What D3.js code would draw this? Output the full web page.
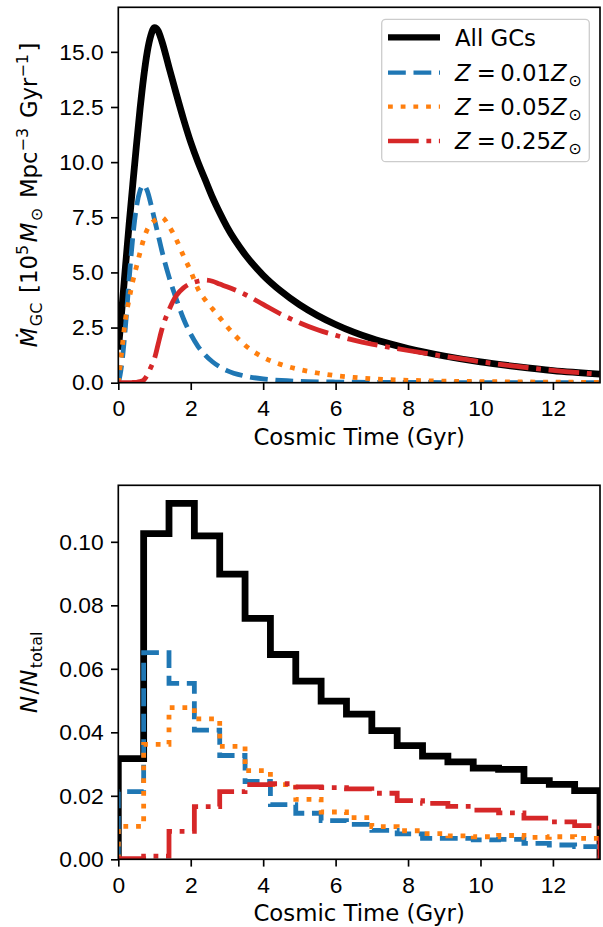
<!DOCTYPE html>
<html lang="en">
<head>
<meta charset="UTF-8">
<title>GC formation history</title>
<script src="https://d3js.org/d3.v7.min.js"></script>
<style>
    body { margin: 0; background: white; }
    #canvas { display: block; font-family: 'DejaVu Sans', sans-serif; }
    #canvas text { white-space: pre; fill: black; }
    .tick text { font-size: 22.8px; }
    .tick line { stroke: black; stroke-width: 1.66px; }
</style>
</head>
<body>
<svg id="canvas" width="603" height="927"></svg>
<script>
// ---- top panel: formation rate, 10^5 Msun / Mpc^3 / Gyr ----
let tGrid = [0, 0.05, 0.1, 0.2, 0.3, 0.4, 0.5, 0.6, 0.7, 0.8, 0.9, 1.0, 1.1, 1.2, 1.4, 1.6, 1.8, 2.0,
             2.2, 2.4, 2.6, 2.8, 3.0, 3.5, 4.0, 4.5, 5.0, 5.5, 6.0, 6.5, 7.0, 7.5, 8.0, 9.0, 10.0, 11.0, 12.0, 13.3];
let rateAll = [1.5, 2.4, 3.35, 5.3, 7.2, 9.0, 10.75, 12.4, 13.85, 15.0, 15.75, 16.1, 15.95, 15.5, 14.3, 13.1, 11.95, 10.9,
               10.0, 9.2, 8.4, 7.7, 7.06, 5.81, 4.87, 4.14, 3.54, 3.05, 2.64, 2.29, 2.0, 1.76, 1.55, 1.21, 0.94, 0.73, 0.55, 0.39];
let rateZ001 = [0, 0.35, 0.9, 2.6, 4.7, 6.6, 7.95, 8.7, 8.95, 8.7, 8.1, 7.4, 6.7, 6.0, 4.8, 3.8, 2.9, 2.2,
                1.65, 1.25, 0.95, 0.72, 0.55, 0.3, 0.17, 0.1, 0.06, 0.04, 0.03, 0.02, 0.015, 0.012, 0.01, 0.007, 0.005, 0.004, 0.003, 0.002];
let rateZ005 = [0, 0.75, 1.5, 2.9, 3.8, 4.6, 5.25, 5.9, 6.5, 6.95, 7.2, 7.35, 7.45, 7.5, 7.1, 6.5, 5.75, 5.05,
                4.25, 3.75, 3.35, 2.95, 2.55, 1.7, 1.15, 0.82, 0.6, 0.44, 0.32, 0.24, 0.18, 0.14, 0.11, 0.07, 0.05, 0.035, 0.025, 0.015];
let rateZ025 = [0, 0, 0, 0, 0, 0.01, 0.02, 0.05, 0.12, 0.35, 0.7, 1.1, 1.75, 2.4, 3.3, 3.95, 4.3, 4.5,
                4.6, 4.65, 4.6, 4.47, 4.35, 4.0, 3.55, 3.1, 2.72, 2.4, 2.15, 1.93, 1.75, 1.6, 1.46, 1.2, 0.95, 0.74, 0.56, 0.38];

// ---- bottom panel: normalised histogram of formation times ----
let binEdges = [0, 0.7, 1.4, 2.1, 2.8, 3.5, 4.2, 4.9, 5.6, 6.3, 7.0, 7.7, 8.4, 9.1, 9.8, 10.5, 11.2, 11.9, 12.6, 13.3];
let fracAll  = [0.0317, 0.1026, 0.1121, 0.1019, 0.0898, 0.0759, 0.0645, 0.0561, 0.0498, 0.0457,
                0.0405, 0.0358, 0.0325, 0.0307, 0.0287, 0.0283, 0.0248, 0.0236, 0.0216];
let fracZ001 = [0.0213, 0.0651, 0.0554, 0.0407, 0.0327, 0.0245, 0.0172, 0.0145, 0.0122, 0.011,
                0.0091, 0.008, 0.0066, 0.0066, 0.0061, 0.0063, 0.005, 0.0045, 0.004];
let fracZ005 = [0.0104, 0.0362, 0.0478, 0.0442, 0.0356, 0.0279, 0.0235, 0.0189, 0.0149, 0.0131,
                0.0103, 0.009, 0.0081, 0.0074, 0.0071, 0.0075, 0.0069, 0.0071, 0.0066];
let fracZ025 = [0.0002, 0.001, 0.0088, 0.0166, 0.0213, 0.0235, 0.0238, 0.0228, 0.0226, 0.0222,
                0.0208, 0.0185, 0.0176, 0.0167, 0.0155, 0.0146, 0.013, 0.0118, 0.0106];

let seriesLabels = ['All GCs', '0.01', '0.05', '0.25'];
let xTicks = [0, 2, 4, 6, 8, 10, 12];
let rateTicks = [0, 2.5, 5, 7.5, 10, 12.5, 15];
let fracTicks = [0, 0.02, 0.04, 0.06, 0.08, 0.10];

// line styles, same order as the series
let styles = [
    {color: '#000000', width: 6.8, dash: null},
    {color: '#1f77b4', width: 4.8, dash: '17.8,7.7'},
    {color: '#ff7f0e', width: 4.8, dash: '4.8,7.9'},
    {color: '#d62728', width: 4.8, dash: '30.7,7.7,4.8,7.7'}
];

let fontPx = 22.8;
let svg = d3.select('#canvas');
let left = 118.3, right = 600;
let topPanel = {top: 7.3, bottom: 382.7};
let botPanel = {top: 485.3, bottom: 859.3};

let x = d3.scaleLinear().domain([0, 13.3]).range([left, right]);
let yRate = d3.scaleLinear().domain([0, 17.02]).range([topPanel.bottom, topPanel.top]);
let yFrac = d3.scaleLinear().domain([0, 0.1178]).range([botPanel.bottom, botPanel.top]);

// write matplotlib-like mathtext with tspans
// (a little extra room after italics and scripts, as mathtext does)
function mathText(sel, parts, size){
    let shift = 0, gap = 0;
    parts.forEach(function(p){
        let target = 0, fs = size;
        if(p.s == 'sub'){ target = size * 0.22; fs = size * 0.7; }
        if(p.s == 'sup'){ target = -size * 0.4; fs = size * 0.7; }
        sel.append('tspan')
            .attr('dx', gap)
            .attr('dy', target - shift)
            .style('font-size', fs + 'px')
            .style('font-style', p.i ? 'italic' : 'normal')
            .text(p.t);
        shift = target;
        gap = p.s ? 2.5 : (p.i ? 1.5 : 0);
    });
}

function drawPanel(panel, yScale, yTicks, yFmt, id){
    svg.append('clipPath').attr('id', id)
        .append('rect')
        .attr('x', left).attr('y', panel.top)
        .attr('width', right - left).attr('height', panel.bottom - panel.top);

    svg.append('g')
        .attr('transform', 'translate(0,' + panel.bottom + ')')
        .call(d3.axisBottom(x).tickValues(xTicks).tickSize(7.3).tickPadding(10).tickFormat(d3.format('d')))
        .call(function(g){ g.select('.domain').remove(); });

    svg.append('g')
        .attr('transform', 'translate(' + left + ',0)')
        .call(d3.axisLeft(yScale).tickValues(yTicks).tickSize(7.3).tickPadding(7.3).tickFormat(yFmt))
        .call(function(g){ g.select('.domain').remove(); });

    svg.selectAll('.tick text').attr('font-family', null).attr('font-size', null);

    svg.append('text')
        .attr('x', (left + right) / 2)
        .attr('y', panel.bottom + 62)
        .attr('text-anchor', 'middle')
        .style('font-size', fontPx + 'px')
        .text('Cosmic Time (Gyr)');
}

drawPanel(topPanel, yRate, rateTicks, d3.format('.1f'), 'clipTop');
drawPanel(botPanel, yFrac, fracTicks, d3.format('.2f'), 'clipBot');

// top curves
let rateSeries = [rateAll, rateZ001, rateZ005, rateZ025];
let rateLine = d3.line()
    .x(function(d, i){ return x(tGrid[i]); })
    .y(function(d){ return yRate(d); })
    .curve(d3.curveMonotoneX);

let topLines = svg.append('g').attr('clip-path', 'url(#clipTop)');
rateSeries.forEach(function(vals, k){
    topLines.append('path')
        .attr('d', rateLine(vals))
        .attr('fill', 'none')
        .attr('stroke', styles[k].color)
        .attr('stroke-width', styles[k].width)
        .attr('stroke-dasharray', styles[k].dash)
        .attr('stroke-linejoin', 'round');
});

// bottom step histograms
let fracSeries = [fracAll, fracZ001, fracZ005, fracZ025];
function stepPoints(vals){
    let pts = [[binEdges[0], 0]];
    vals.forEach(function(v, i){
        pts.push([binEdges[i], v]);
        pts.push([binEdges[i + 1], v]);
    });
    pts.push([binEdges[binEdges.length - 1], 0]);
    return pts;
}
let stepLine = d3.line()
    .x(function(d){ return x(d[0]); })
    .y(function(d){ return yFrac(d[1]); });

let botLines = svg.append('g').attr('clip-path', 'url(#clipBot)');
fracSeries.forEach(function(vals, k){
    botLines.append('path')
        .attr('d', stepLine(stepPoints(vals)))
        .attr('fill', 'none')
        .attr('stroke', styles[k].color)
        .attr('stroke-width', styles[k].width)
        .attr('stroke-dasharray', styles[k].dash)
        .attr('stroke-linejoin', 'miter');
});

// axes frames on top
[topPanel, botPanel].forEach(function(p){
    svg.append('rect')
        .attr('x', left).attr('y', p.top)
        .attr('width', right - left).attr('height', p.bottom - p.top)
        .attr('fill', 'none')
        .attr('stroke', 'black')
        .attr('stroke-width', 1.66);
});

// legend
let legend = svg.append('g');
legend.append('rect')
    .attr('x', 381.7).attr('y', 19.3)
    .attr('width', 207.6).attr('height', 142.4)
    .attr('rx', 4)
    .attr('fill', 'white').attr('fill-opacity', 0.8)
    .attr('stroke', '#cccccc').attr('stroke-width', 1.3);

let rowY = [37.3, 72.7, 106.7, 141];
seriesLabels.forEach(function(lab, k){
    legend.append('line')
        .attr('x1', 388).attr('x2', 440)
        .attr('y1', rowY[k]).attr('y2', rowY[k])
        .attr('stroke', styles[k].color)
        .attr('stroke-width', k == 0 ? 6.3 : 4.3)
        .attr('stroke-dasharray', styles[k].dash);
    let t = legend.append('text')
        .attr('x', 455).attr('y', rowY[k] + 8.2)
        .style('font-size', fontPx + 'px');
    if(k == 0){
        t.text(lab);
    } else {
        mathText(t, [{t: 'Z'}, {t: '\u2009=\u2009'}, {t: lab}, {t: 'Z'}, {t: '\u2299', s: 'sub'}].map(function(p, j){
            if(j == 0 || j == 3) p.i = true;
            return p;
        }), fontPx);
    }
});

// y labels
let yl1 = svg.append('text')
    .attr('transform', 'translate(37,' + (topPanel.top + topPanel.bottom) / 2 + ') rotate(-90)')
    .attr('text-anchor', 'middle')
    .style('font-size', fontPx + 'px');
mathText(yl1, [
    {t: '\u1E40', i: true}, {t: 'GC', s: 'sub'}, {t: ' [10'}, {t: '5', s: 'sup'},
    {t: 'M', i: true}, {t: '\u2299', s: 'sub'}, {t: ' Mpc'}, {t: '\u22123', s: 'sup'},
    {t: ' Gyr'}, {t: '\u22121', s: 'sup'}, {t: ']'}
], fontPx);

let yl2 = svg.append('text')
    .attr('transform', 'translate(37,' + (botPanel.top + botPanel.bottom) / 2 + ') rotate(-90)')
    .attr('text-anchor', 'middle')
    .style('font-size', fontPx + 'px');
mathText(yl2, [{t: 'N', i: true}, {t: '/'}, {t: 'N', i: true}, {t: 'total', s: 'sub'}], fontPx);
</script>
</body>
</html>
